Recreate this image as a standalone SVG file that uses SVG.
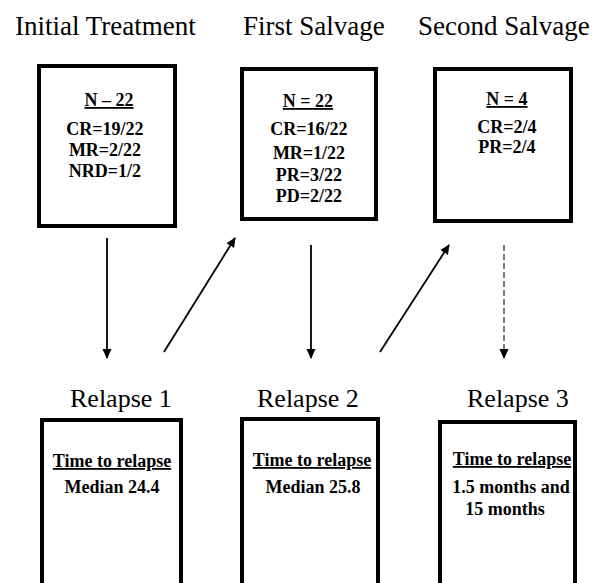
<svg xmlns="http://www.w3.org/2000/svg" width="595" height="583" viewBox="0 0 595 583">
<defs>
<style>
.title{font-family:"Liberation Serif","Times New Roman",serif;font-size:27px;fill:#000}
.rtitle{font-family:"Liberation Serif","Times New Roman",serif;font-size:26px;fill:#000}
.box{fill:#fff;stroke:#000;stroke-width:4}
.t{font-family:"Liberation Serif","Times New Roman",serif;font-size:18px;font-weight:bold;fill:#000;text-anchor:middle}
.u{text-decoration:underline}
.arrow{stroke:#000;stroke-width:1.8;fill:none;marker-end:url(#ah)}
.dash{stroke:#333;stroke-width:1.3;stroke-dasharray:6 3;fill:none;marker-end:url(#ah)}
</style>
<marker id="ah" viewBox="0 0 10 10" refX="9" refY="5" markerWidth="10" markerHeight="10" markerUnits="userSpaceOnUse" orient="auto">
<path d="M0,0.5 L10,5 L0,9.5 Z" fill="#000"/>
</marker>
</defs>
<rect width="595" height="583" fill="#fff"/>
<g id="titles">
<text class="title" x="15" y="35">Initial Treatment</text>
<text class="title" x="243" y="35">First Salvage</text>
<text class="title" x="418" y="35">Second Salvage</text>
</g>
<g id="initial">
<rect class="box" x="39" y="66" width="136" height="160"/>
<text class="t u" x="109" y="106">N – 22</text>
<text class="t" x="105" y="135">CR=19/22</text>
<text class="t" x="105" y="156">MR=2/22</text>
<text class="t" x="105" y="177">NRD=1/2</text>
</g>
<g id="first-salvage">
<rect class="box" x="242" y="69" width="134" height="150"/>
<text class="t u" x="308" y="107">N = 22</text>
<text class="t" x="309" y="135">CR=16/22</text>
<text class="t" x="309" y="159">MR=1/22</text>
<text class="t" x="309" y="181">PR=3/22</text>
<text class="t" x="309" y="202">PD=2/22</text>
</g>
<g id="second-salvage">
<rect class="box" x="435" y="69" width="136" height="152"/>
<text class="t u" x="507" y="105">N = 4</text>
<text class="t" x="507" y="133">CR=2/4</text>
<text class="t" x="507" y="153">PR=2/4</text>
</g>
<g id="relapse1">
<text class="rtitle" x="70" y="407">Relapse 1</text>
<rect class="box" x="42" y="420" width="139" height="170"/>
<text class="t u" x="112" y="467">Time to relapse</text>
<text class="t" x="112" y="493">Median 24.4</text>
</g>
<g id="relapse2">
<text class="rtitle" x="257" y="407">Relapse 2</text>
<rect class="box" x="242" y="419" width="136" height="170"/>
<text class="t u" x="312" y="466">Time to relapse</text>
<text class="t" x="313" y="493">Median 25.8</text>
</g>
<g id="relapse3">
<text class="rtitle" x="467" y="407">Relapse 3</text>
<rect class="box" x="440" y="422" width="135" height="170"/>
<text class="t u" x="512" y="465">Time to relapse</text>
<text class="t" x="511" y="493">1.5 months and</text>
<text class="t" x="505" y="515">15 months</text>
</g>
<g id="connectors">
<line class="arrow" x1="107" y1="238" x2="107" y2="358"/>
<line class="arrow" x1="164" y1="352" x2="235" y2="238"/>
<line class="arrow" x1="311" y1="245" x2="311" y2="358"/>
<line class="arrow" x1="380" y1="352" x2="449" y2="245"/>
<line class="dash" x1="504" y1="245" x2="504" y2="358"/>
</g>
</svg>
